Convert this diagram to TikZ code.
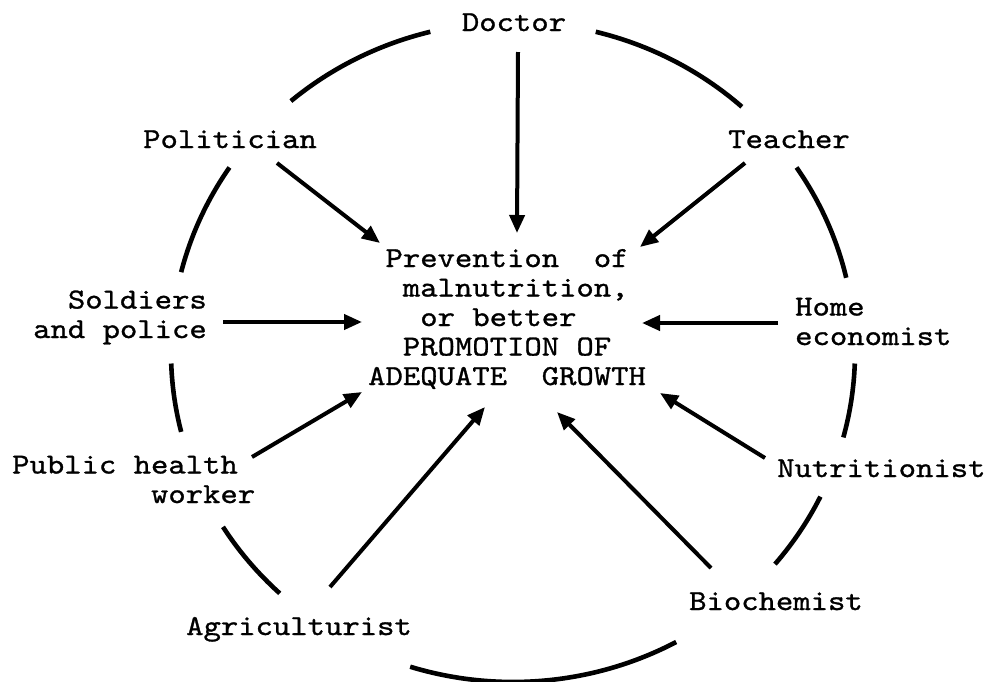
\documentclass[tikz,border=0pt]{standalone}
\usepackage{fontspec}
\newfontfamily\typewriter[FakeStretch=1.14,FakeBold=1]{lmmono10-regular.otf}
\usetikzlibrary{arrows.meta}

\begin{document}
\begin{tikzpicture}[x=1pt, y=-1pt,
    role/.style={font=\typewriter\fontsize{29}{29.5}\selectfont, inner sep=0pt},
    ring/.style={line width=4.6pt},
    feed/.style={line width=4pt, -{Triangle[length=18pt,width=15pt]}}]
    \useasboundingbox (0,0) rectangle (989,681);

    % Centre of the ring
    \coordinate (hub) at (513,352);

    % Tails of the arrows
    \coordinate (doctor-out) at (518,52);
    \coordinate (politician-out) at (277,163);
    \coordinate (teacher-out) at (745,163);
    \coordinate (soldiers-out) at (223,322);
    \coordinate (home-out) at (778,323);
    \coordinate (public-out) at (252,457);
    \coordinate (nutritionist-out) at (765,458);
    \coordinate (agriculturist-out) at (330,587);
    \coordinate (biochemist-out) at (711,568);

    % Heads of the arrows, round the goal
    \coordinate (doctor-in) at (517,233);
    \coordinate (politician-in) at (380,243);
    \coordinate (teacher-in) at (640,247);
    \coordinate (soldiers-in) at (362,322);
    \coordinate (home-in) at (642,323);
    \coordinate (public-in) at (362,392);
    \coordinate (nutritionist-in) at (660,393);
    \coordinate (agriculturist-in) at (485,407);
    \coordinate (biochemist-in) at (557,412);

    % Ring pieces between the labels
    \foreach \a/\b in {229.5/256, 284/312, 326/347, 2/15, 26/40, 61.5/107.5, 133/148, 166/178, 194/214}
        \draw[ring] ([shift={(\a:342 and 330)}]hub) arc[start angle=\a, end angle=\b, x radius=342, y radius=330];

    % Labels (multi-line ones sit on their last baseline)
    \node[role, anchor=base] (doctor) at (514,31) {Doctor};
    \node[role, anchor=base] (politician) at (230,148) {Politician};
    \node[role, anchor=base] (teacher) at (789,148) {Teacher};
    \node[role, anchor=base east, align=right] (soldiers) at (207,338) {Soldiers\\and police};
    \node[role, anchor=base west, align=left] (home) at (795,345) {Home\\economist};
    \node[role, anchor=base west, align=left] (public) at (12,503) {Public health\\\phantom{Public h}worker};
    \node[role, anchor=base west] (nutritionist) at (777,477) {Nutritionist};
    \node[role, anchor=base west] (agriculturist) at (186,635) {Agriculturist};
    \node[role, anchor=base west] (biochemist) at (689,610) {Biochemist};

    % Goal in the middle
    \node[role, anchor=base west, align=left] (goal) at (368,385)
        {\phantom{A}Prevention\ \ of\\
         \phantom{AA}malnutrition,\\
         \phantom{AAA}or better\\
         \phantom{AA}PROMOTION OF\\
         ADEQUATE\ \ GROWTH};

    % Arrows into the goal
    \foreach \who in {doctor, politician, teacher, soldiers, home, public, nutritionist, agriculturist, biochemist}
        \draw[feed] (\who-out) -- (\who-in);
\end{tikzpicture}
\end{document}
